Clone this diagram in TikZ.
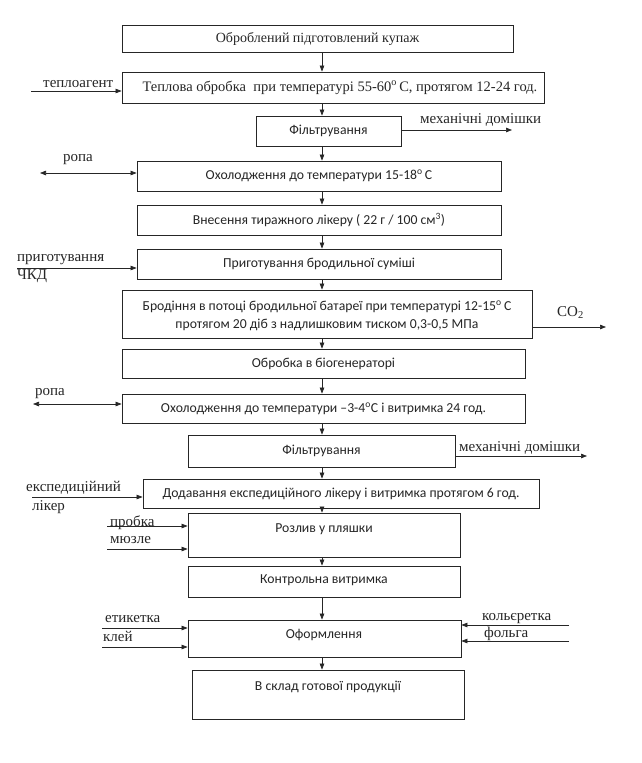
\documentclass[tikz,border=0pt]{standalone}
\usepackage{fontspec}
\setmainfont{Liberation Serif}
\newfontfamily\carl{Carlito}
\usetikzlibrary{arrows.meta,calc}
\definecolor{ink}{HTML}{262626}
\tikzset{
  box/.style={draw=ink, line width=0.8pt, inner sep=0pt, fill=none},
  btxt/.style={font=\carl\fontsize{13.7}{16}\selectfont, text=ink, inner sep=0pt, align=center},
  stxt/.style={font=\fontsize{14}{16}\selectfont, text=ink, inner sep=0pt, align=center},
  lbl/.style={font=\fontsize{15}{17}\selectfont, text=ink, inner sep=0pt, anchor=base west},
  arr/.style={draw=ink, line width=0.7pt, -{Triangle[length=6pt,width=4.5pt]}},
  dbl/.style={draw=ink, line width=0.7pt, {Triangle[length=6pt,width=4.5pt]}-{Triangle[length=6pt,width=4.5pt]}},
  ln/.style={draw=ink, line width=0.7pt}
}
\newcommand{\bx}[5]{% name, x1, y1, x2, y2
  \node[box, minimum width={#4-#2}, minimum height={#5-#3}] (#1) at ({(#2+#4)/2},{(#3+#5)/2}) {};}
\begin{document}
\begin{tikzpicture}[x=1pt,y=-1pt]
\useasboundingbox (0,0) rectangle (642,763);
\fill[white] (0,0) rectangle (642,763);
% boxes
\bx{b1}{122}{25}{513}{52}
\bx{b2}{122}{72}{544}{103}
\bx{b3}{256}{116}{401}{146}
\bx{b4}{137}{161}{501}{191}
\bx{b5}{137}{205}{501}{235}
\bx{b6}{137}{249}{501}{279}
\bx{b7}{122}{290}{532}{338}
\bx{b8}{122}{349}{525}{378}
\bx{b9}{122}{394}{525}{423}
\bx{b10}{188}{435}{455}{467}
\bx{b11}{143}{479}{539}{508}
\bx{b12}{188}{513}{460}{557}
\bx{b13}{188}{566}{460}{597}
\bx{b14}{188}{620}{461}{657}
\bx{b15}{192}{670}{464}{719}
% texts in boxes
\node[stxt] (t1) at (b1.center) {Оброблений підготовлений купаж};
\node[stxt, font=\fontsize{14.5}{16}\selectfont] (t2) at ($(b2.center)+(7,0)$) {Теплова обробка\ \ при температурі 55-60\textsuperscript{o}\,С, протягом 12-24 год.};
\node[btxt] (t3) at (b3.center) {Фільтрування};
\node[btxt] (t4) at (b4.center) {Охолодження до температури 15-18\textsuperscript{o}\,C};
\node[btxt] (t5) at (b5.center) {Внесення тиражного лікеру ( 22 г / 100 см\textsuperscript{3})};
\node[btxt] (t6) at (b6.center) {Приготування бродильної суміші};
\node[btxt] (t7a) at (327,307) {Бродіння в потоці бродильної батареї при температурі 12-15\textsuperscript{o}\,C};
\node[btxt] (t7b) at (327,325) {протягом 20 діб з надлишковим тиском 0,3-0,5 МПа};
\node[btxt] (t8) at (b8.center) {Обробка в біогенераторі};
\node[btxt] (t9) at (b9.center) {Охолодження до температури –3-4\textsuperscript{o}C і витримка 24 год.};
\node[btxt] (t10) at (b10.center) {Фільтрування};
\node[btxt] (t11) at (b11.center) {Додавання експедиційного лікеру і витримка протягом 6 год.};
\node[btxt] (t12) at (324,529) {Розлив у пляшки};
\node[btxt] (t13) at (324,580) {Контрольна витримка};
\node[btxt] (t14) at (324,635) {Оформлення};
\node[btxt] (t15) at (328,687) {В склад готової продукції};
% vertical arrows
\coordinate (ax) at (322,0);
\draw[arr] (b1.south -| ax) -- (b2.north -| ax);
\draw[arr] (b2.south -| ax) -- (b3.north -| ax);
\draw[arr] (b3.south -| ax) -- (b4.north -| ax);
\draw[arr] (b4.south -| ax) -- (b5.north -| ax);
\draw[arr] (b5.south -| ax) -- (b6.north -| ax);
\draw[arr] (b6.south -| ax) -- (b7.north -| ax);
\draw[arr] (b7.south -| ax) -- (b8.north -| ax);
\draw[arr] (b8.south -| ax) -- (b9.north -| ax);
\draw[arr] (b9.south -| ax) -- (b10.north -| ax);
\draw[arr] (b10.south -| ax) -- (b11.north -| ax);
\draw[arr] (b11.south -| ax) -- (b12.north -| ax);
\draw[arr] (b12.south -| ax) -- (b13.north -| ax);
\draw[arr] (b13.south -| ax) -- (b14.north -| ax);
\draw[arr] (b14.south -| ax) -- (b15.north -| ax);
% side inputs / outputs
\coordinate (c2) at (31,91);
\draw[arr] (c2) -- (c2 -| b2.west);
\node[lbl] (l2) at (43,87) {теплоагент};

\coordinate (c3) at (512,130);
\draw[arr] (c3 -| b3.east) -- (c3);
\node[lbl] (l3) at (420,123) {механічні домішки};

\coordinate (c4) at (40,173);
\draw[dbl] (c4) -- (c4 -| b4.west);
\node[lbl] (l4) at (63,161) {ропа};

\coordinate (c6) at (17,268);
\draw[arr] (c6) -- (c6 -| b6.west);
\node[lbl] (l6a) at (17,261) {приготування};
\node[lbl] (l6b) at (17,279) {ЧКД};

\coordinate (c7) at (606,327);
\draw[arr] (c7 -| b7.east) -- (c7);
\node[lbl] (l7) at (557,316) {CO\textsubscript{2}};

\coordinate (c9) at (33,404);
\draw[dbl] (c9) -- (c9 -| b9.west);
\node[lbl] (l9) at (35,395) {ропа};

\coordinate (c10) at (587,456);
\draw[arr] (c10 -| b10.east) -- (c10);
\node[lbl] (l10) at (459,451) {механічні домішки};

\coordinate (c11) at (32,497);
\draw[arr] (c11) -- (c11 -| b11.west);
\node[lbl] (l11a) at (26,491) {експедиційний};
\node[lbl] (l11b) at (32,510) {лікер};

\coordinate (c12a) at (107,526);
\coordinate (c12b) at (107,549);
\node[lbl] (l12a) at (110,526) {пробка};
\node[lbl] (l12b) at (110,543) {мюзле};
\draw[arr] (c12a) -- (c12a -| b12.west);
\draw[arr] (c12b) -- (c12b -| b12.west);

\coordinate (c14a) at (102,628);
\coordinate (c14b) at (102,647);
\draw[arr] (c14a) -- (c14a -| b14.west);
\draw[arr] (c14b) -- (c14b -| b14.west);
\node[lbl] (l14a) at (105,622) {етикетка};
\node[lbl] (l14b) at (103,641) {клей};

\coordinate (c14c) at (569,625);
\coordinate (c14d) at (569,641);
\draw[arr] (c14c) -- (c14c -| b14.east);
\draw[arr] (c14d) -- (c14d -| b14.east);
\node[lbl] (l14c) at (482,620) {кольєретка};
\node[lbl] (l14d) at (484,637) {фольга};
\end{tikzpicture}
\end{document}
